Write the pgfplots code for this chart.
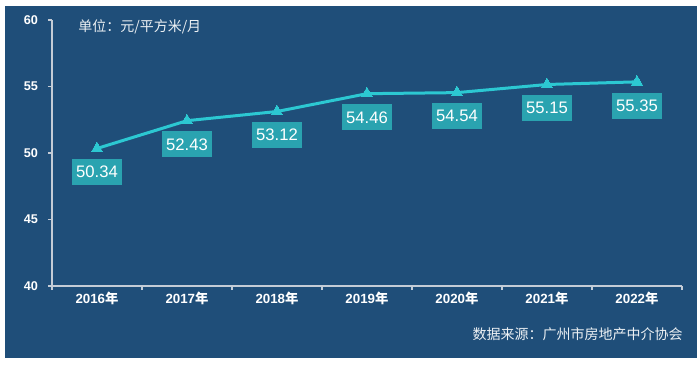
\documentclass[border=0pt]{standalone}
\usepackage{pgfplots}
\pgfplotsset{compat=1.18}
\usepackage{fontspec}
\setmainfont{Liberation Sans}
\newfontfamily\cjk{Noto Sans CJK SC}
\definecolor{bg}{HTML}{1F4E79}
\definecolor{lineC}{HTML}{2CC8D2}
\definecolor{boxC}{HTML}{2AA3B0}
\definecolor{axisC}{HTML}{C4CCD6}
\begin{document}
\begin{tikzpicture}[x=1pt,y=1pt]
\fill[white] (-39,-59.25) rectangle (486,214.5);
\fill[bg] (-35.25,-54) rectangle (483.75,210);
\begin{axis}[
  at={(0,0)}, anchor=south west,
  scale only axis, width=472.5pt, height=199.5pt,
  xmin=-0.5, xmax=6.5, ymin=40, ymax=60,
  axis x line*=bottom, axis y line*=left,
  axis line style={draw=axisC, line width=0.8pt},
  tick style={draw=axisC, line width=0.8pt},
  tick align=outside, major tick length=3pt,
  ytick={40,45,50,55,60},
  xtick={-0.5,0.5,...,6.5},
  xticklabels={},
  extra x ticks={0,1,2,3,4,5,6},
  extra x tick labels={2016{\cjk 年},2017{\cjk 年},2018{\cjk 年},2019{\cjk 年},2020{\cjk 年},2021{\cjk 年},2022{\cjk 年}},
  extra x tick style={major tick length=0pt},
  /pgf/number format/assume math mode=true,
  ticklabel style={text=white},
  yticklabel style={font=\bfseries\fontsize{9.5}{11}\selectfont, xshift=-4pt},
  xticklabel style={font=\bfseries\fontsize{10}{12}\selectfont, yshift=-1pt},
  clip=false,
]
\addplot[color=lineC, line width=2.25pt, mark=triangle*, mark size=4.8pt,
  mark options={solid, fill=lineC, draw=lineC, line width=0pt},
  nodes near coords={\pgfmathprintnumber[fixed,fixed zerofill,precision=2,assume math mode=true]{\pgfplotspointmeta}},
  every node near coord/.append style={anchor=north, yshift=-8pt, fill=boxC, text=white,
    font=\fontsize{12.5}{14}\selectfont, inner xsep=3pt, inner ysep=0pt, minimum height=19.5pt}
] coordinates {(0,50.34)(1,52.43)(2,53.12)(3,54.46)(4,54.54)(5,55.15)(6,55.35)};
\end{axis}
\node[anchor=west, text=white!92!bg, font=\cjk\fontsize{10.5}{12}\selectfont, inner sep=0pt] at (19.5,194.25) {单位：元/平方米/月};
\node[anchor=east, text=white!92!bg, font=\cjk\fontsize{10.5}{12}\selectfont, inner sep=0pt] at (473.25,-36) {数据来源：广州市房地产中介协会};
\end{tikzpicture}
\end{document}
